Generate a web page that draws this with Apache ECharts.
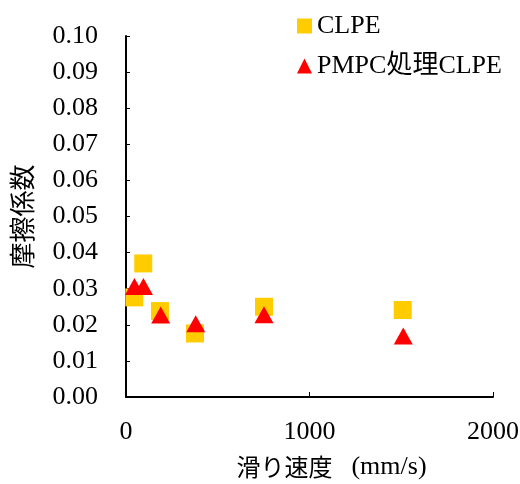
<!DOCTYPE html>
<html>
<head>
<meta charset="utf-8">
<script src="https://cdn.jsdelivr.net/npm/echarts@6/dist/echarts.min.js"></script>
<style>html,body{margin:0;padding:0;background:#fff}#c{width:520px;height:484px}</style>
</head>
<body>
<div id="c"></div>
<script>
var seriesNames = ['CLPE', 'PMPC処理CLPE'];
var clpeSpeed = [45, 94, 185, 376, 752, 1508];
var clpeMu = [0.0276, 0.0370, 0.0238, 0.0176, 0.0250, 0.0241];
var pmpcSpeed = [46, 95, 189, 380, 752, 1511];
var pmpcMu = [0.0306, 0.0306, 0.0227, 0.0203, 0.0228, 0.0169];
var xName = '滑り速度';
var xUnit = '(mm/s)';
var yName = '摩擦係数';

function pairs(xs, ys) { return xs.map(function (x, i) { return [x, ys[i]]; }); }

var serif = "'Liberation Serif', 'Times New Roman', 'Noto Sans CJK JP', serif";
var cjk = "'Noto Sans CJK JP', sans-serif";

var chart = echarts.init(document.getElementById('c'), null, {renderer: 'canvas'});
chart.setOption({
  animation: false,
  backgroundColor: '#fff',
  grid: {left: 126, right: 27, top: 36, bottom: 87, containLabel: false, outerBoundsMode: 'none'},
  legend: {
    orient: 'vertical', left: 297, top: 13, itemGap: 14, padding: 0,
    itemWidth: 15, itemHeight: 15,
    textStyle: {fontFamily: serif, fontSize: 26, color: '#000'},
    data: seriesNames
  },
  xAxis: {
    type: 'value', min: 0, max: 2000, interval: 1000,
    name: '{a|' + xName + '}{s| }{b|' + xUnit + '}',
    nameLocation: 'middle', nameGap: 57,
    nameTextStyle: {
      padding: [0, 0, 0, 44],
      rich: {
        a: {fontFamily: cjk, fontSize: 24, color: '#000'},
        s: {width: 19, fontSize: 24},
        b: {fontFamily: serif, fontSize: 26, color: '#000'}
      }
    },
    axisLine: {show: true, lineStyle: {color: '#000', width: 2}},
    axisTick: {show: true, inside: true, length: 5, lineStyle: {color: '#000', width: 1}},
    axisLabel: {fontFamily: serif, fontSize: 26, color: '#000', margin: 22,
      formatter: function (v) { return String(v); }},
    splitLine: {show: false}
  },
  yAxis: {
    type: 'value', min: 0, max: 0.1, interval: 0.01,
    name: yName, nameLocation: 'middle', nameGap: 91, nameRotate: 90,
    nameTextStyle: {fontFamily: cjk, fontSize: 26, color: '#000'},
    axisLine: {show: true, lineStyle: {color: '#000', width: 2}},
    axisTick: {show: true, inside: true, length: 4, lineStyle: {color: '#000', width: 1}},
    axisLabel: {fontFamily: serif, fontSize: 26, color: '#000', margin: 28,
      formatter: function (v) { return v.toFixed(2); }},
    splitLine: {show: false}
  },
  series: [
    {
      name: seriesNames[0], type: 'scatter', symbol: 'rect', symbolSize: 18,
      itemStyle: {color: '#FFCC00', opacity: 1},
      data: pairs(clpeSpeed, clpeMu)
    },
    {
      name: seriesNames[1], type: 'scatter', symbol: 'triangle', symbolSize: [19, 17],
      itemStyle: {color: '#FF0000', opacity: 1},
      data: pairs(pmpcSpeed, pmpcMu)
    }
  ]
});
</script>
</body>
</html>
